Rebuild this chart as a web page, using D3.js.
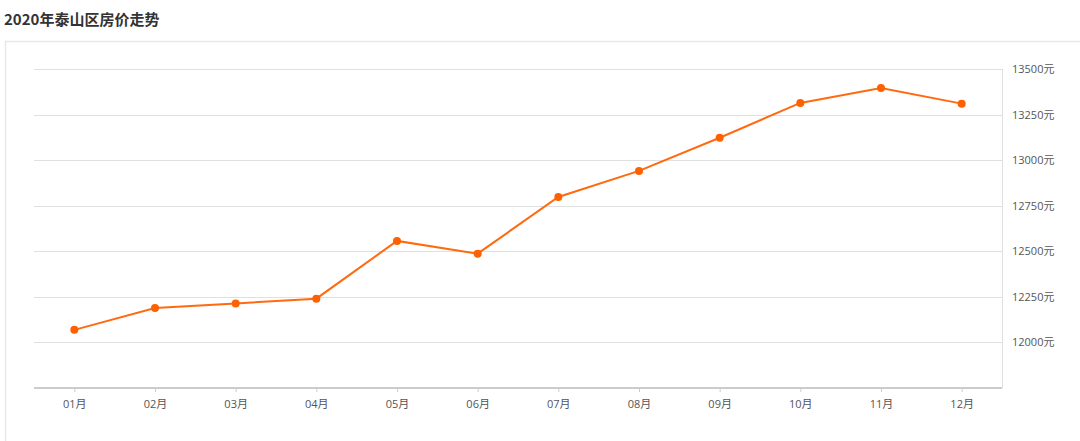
<!DOCTYPE html>
<html><head><meta charset="utf-8">
<script src="https://cdn.jsdelivr.net/npm/d3@7/dist/d3.min.js"></script>
<style>body{margin:0;background:#fff;}svg{display:block;}</style>
</head><body>
<svg id="c" width="1080" height="441"></svg>
<script>
const title = "2020年泰山区房价走势";
const months = ["01月","02月","03月","04月","05月","06月","07月","08月","09月","10月","11月","12月"];
const prices = [12069,12189,12214,12240,12557,12487,12798,12941,13123,13314,13396,13310];
const yTicks = [12000,12250,12500,12750,13000,13250,13500];

(function(){
const svg = d3.select("#c");
const font = "'Open Sans','Noto Sans CJK SC',sans-serif";

svg.append("text").attr("x",4).attr("y",25).text(title)
  .attr("font-family","'Noto Sans CJK SC','Open Sans',sans-serif")
  .attr("font-weight","bold").attr("font-size",15).attr("fill","#333");

// card border
svg.append("path").attr("d","M5.5,441 V41.5 H1080").attr("fill","none").attr("stroke","#e8e8e8").attr("stroke-width",1.5);

const pl=34, pr=1002, pt=69, pb=388;
const x = d3.scalePoint().domain(months).range([pl,pr]).padding(0.5);
const y = d3.scaleLinear().domain([11750,13500]).range([pb,pt]);

// grid
svg.append("g").selectAll("line").data(yTicks).join("line")
  .attr("x1",pl).attr("x2",pr).attr("y1",d=>Math.round(y(d))+0.5).attr("y2",d=>Math.round(y(d))+0.5)
  .attr("stroke","#e0e0e0").attr("stroke-width",1);
// right axis line
svg.append("line").attr("x1",pr+0.5).attr("x2",pr+0.5).attr("y1",pt).attr("y2",pb)
  .attr("stroke","#e0e0e0").attr("stroke-width",1);

// y labels
svg.append("g").selectAll("text").data(yTicks).join("text")
  .attr("x",1012).attr("y",d=>y(d)+4).text(d=>d+"元")
  .attr("font-family",font).attr("font-size",11).attr("fill","#555");

// x axis
const xAxis = d3.axisBottom(x).tickSize(4).tickPadding(8);
const gx = svg.append("g").attr("transform",`translate(0,${pb})`).call(xAxis);
gx.select(".domain").attr("stroke","#ccc").attr("stroke-width",2).attr("d",`M${pl},0H${pr}`);
gx.selectAll(".tick line").attr("stroke","#ccc");
gx.selectAll(".tick text").attr("font-family",font).attr("font-size",11).attr("fill","#555");

// line
const line = d3.line().x((d,i)=>x(months[i])).y(d=>y(d));
svg.append("path").datum(prices).attr("d",line).attr("fill","none")
  .attr("stroke","#ff6a10").attr("stroke-width",2);
svg.append("g").selectAll("circle").data(prices).join("circle")
  .attr("cx",(d,i)=>x(months[i])).attr("cy",d=>y(d)).attr("r",4).attr("fill","#ff6000");
})();
</script>
</body></html>
